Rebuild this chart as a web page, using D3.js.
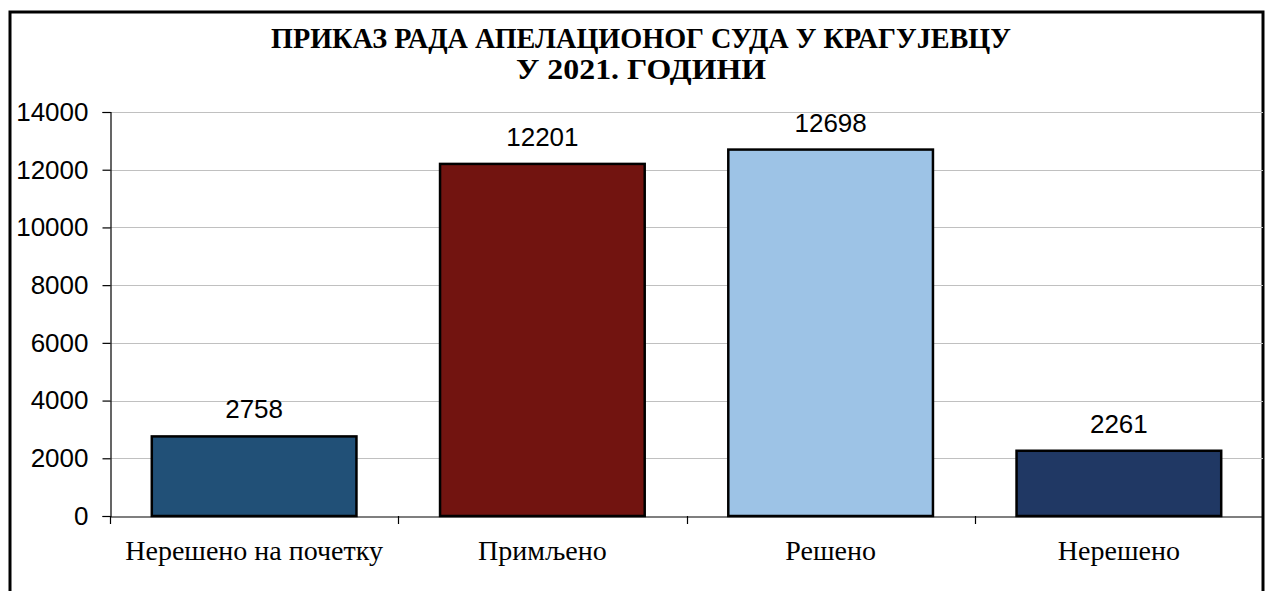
<!DOCTYPE html>
<html>
<head>
<meta charset="utf-8">
<script src="https://cdn.jsdelivr.net/npm/d3@7"></script>
<style>
body { margin: 0; background: #fff; }
</style>
</head>
<body>
<div id="chart"></div>
<script>
var w = 1267;
var h = 591;

var titleLines = ["ПРИКАЗ РАДА АПЕЛАЦИОНОГ СУДА У КРАГУЈЕВЦУ", "У 2021. ГОДИНИ"];
var categories = ["Нерешено на почетку", "Примљено", "Решено", "Нерешено"];
var values = [2758, 12201, 12698, 2261];
var colors = ["#215077", "#721410", "#9dc3e6", "#203864"];
var tickValues = [0, 2000, 4000, 6000, 8000, 10000, 12000, 14000];

var plotLeft = 110, plotRight = 1263, plotTop = 112, plotBottom = 516;

var svg = d3.select("#chart")
	.append("svg")
	.attr("width", w)
	.attr("height", h);

// frame
svg.append("rect")
	.attr("x", 10)
	.attr("y", 12)
	.attr("width", 1253)
	.attr("height", 620)
	.attr("fill", "none")
	.attr("stroke", "#000")
	.attr("stroke-width", 3);

// title
svg.selectAll(".title")
	.data(titleLines)
	.enter()
	.append("text")
	.attr("class", "title")
	.attr("x", 641)
	.attr("y", function(d, i) { return 48 + i * 31; })
	.attr("text-anchor", "middle")
	.attr("textLength", function(d, i) { return i === 0 ? 740 : 250; })
	.attr("lengthAdjust", "spacingAndGlyphs")
	.style("font-family", "'Liberation Serif', 'Times New Roman', serif")
	.style("font-weight", "bold")
	.style("font-size", "29px")
	.text(function(d) { return d; });

var xScale = d3.scaleBand()
	.domain(categories)
	.range([plotLeft, plotRight])
	.paddingInner(0)
	.paddingOuter(0);

var yScale = d3.scaleLinear()
	.domain([0, 14000])
	.range([plotBottom, plotTop]);

// gridlines
svg.selectAll(".grid")
	.data(tickValues.slice(1))
	.enter()
	.append("line")
	.attr("class", "grid")
	.attr("x1", plotLeft)
	.attr("x2", plotRight)
	.attr("y1", function(d) { return Math.round(yScale(d)) + 0.5; })
	.attr("y2", function(d) { return Math.round(yScale(d)) + 0.5; })
	.attr("stroke", "#c0c0c0")
	.attr("stroke-width", 1.2);

// bars
svg.selectAll(".bar")
	.data(values)
	.enter()
	.append("rect")
	.attr("class", "bar")
	.attr("x", function(d, i) { return xScale(categories[i]) + xScale.bandwidth() * 0.145; })
	.attr("y", function(d) { return yScale(d); })
	.attr("width", xScale.bandwidth() * 0.71)
	.attr("height", function(d) { return plotBottom - yScale(d); })
	.attr("fill", function(d, i) { return colors[i]; })
	.attr("stroke", "#000")
	.attr("stroke-width", 2.5);

// value labels
svg.selectAll(".val")
	.data(values)
	.enter()
	.append("text")
	.attr("class", "val")
	.attr("x", function(d, i) { return xScale(categories[i]) + xScale.bandwidth() / 2; })
	.attr("y", function(d) { return yScale(d) - 18; })
	.attr("text-anchor", "middle")
	.style("font-family", "'Liberation Sans', Arial, sans-serif")
	.style("font-size", "26px")
	.text(function(d) { return d; });

// y axis
var yAxis = d3.axisLeft(yScale)
	.tickValues(tickValues)
	.tickFormat(d3.format("d"))
	.tickSize(8)
	.tickPadding(14);

var gy = svg.append("g")
	.attr("transform", "translate(" + (plotLeft + 0.5) + ",0)")
	.call(yAxis);
gy.select(".domain").attr("stroke", "#000").attr("stroke-width", 1.2);
gy.selectAll(".tick line").attr("stroke", "#000").attr("stroke-width", 1.2);
gy.selectAll(".tick text")
	.style("font-family", "'Liberation Sans', Arial, sans-serif")
	.style("font-size", "26px")
	.attr("fill", "#000");

// x axis
var xAxis = d3.axisBottom(xScale)
	.tickSize(0)
	.tickPadding(24);

var gx = svg.append("g")
	.attr("transform", "translate(0," + (plotBottom + 0.5) + ")")
	.call(xAxis);
gx.select(".domain").attr("stroke", "#000").attr("stroke-width", 1.2);
gx.selectAll(".tick text")
	.style("font-family", "'Liberation Serif', 'Times New Roman', serif")
	.style("font-size", "28px")
	.attr("fill", "#000");

// ticks between categories
svg.selectAll(".xtick")
	.data(categories)
	.enter()
	.append("line")
	.attr("class", "xtick")
	.attr("x1", function(d) { return Math.round(xScale(d)) + 0.5; })
	.attr("x2", function(d) { return Math.round(xScale(d)) + 0.5; })
	.attr("y1", plotBottom)
	.attr("y2", plotBottom + 8)
	.attr("stroke", "#000")
	.attr("stroke-width", 1.2);
</script>
</body>
</html>
